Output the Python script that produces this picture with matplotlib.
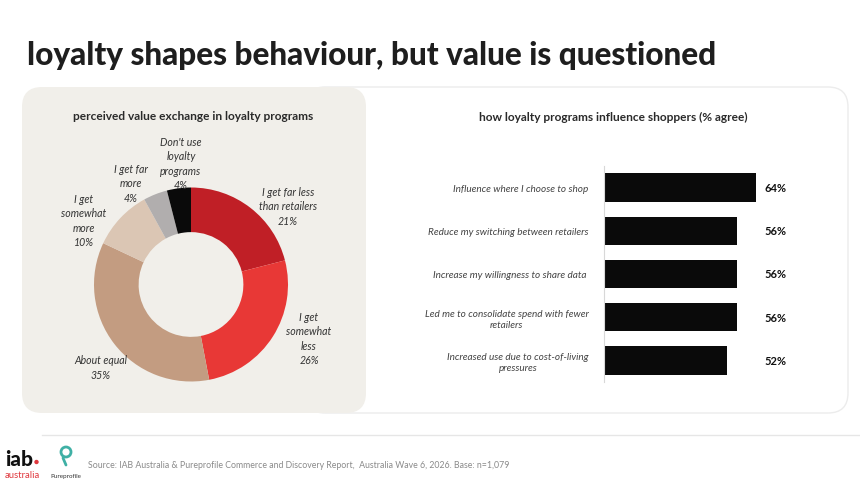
import matplotlib
matplotlib.use("Agg")
import matplotlib.pyplot as plt
from matplotlib.patches import FancyBboxPatch, Circle

plt.rcParams['font.family'] = ['Lato', 'DejaVu Sans']

W, H = 860, 485
fig = plt.figure(figsize=(W / 100, H / 100), dpi=100)
fig.patch.set_facecolor('white')

# ---------------- data ----------------
title = "loyalty shapes behaviour, but value is questioned"

donut_title = "perceived value exchange in loyalty programs"
donut_labels = ["I get far less\nthan retailers", "I get\nsomewhat\nless", "About equal",
                "I get\nsomewhat\nmore", "I get far\nmore", "Don't use\nloyalty\nprograms"]
donut_values = [21, 26, 35, 10, 4, 4]
donut_colors = ["#c01f26", "#e83836", "#c39c81", "#dbc6b4", "#b1aeae", "#0a0a0a"]

bar_title = "how loyalty programs influence shoppers (% agree)"
bar_labels = ["Influence where I choose to shop",
              "Reduce my switching between retailers",
              "Increase my willingness to share data ",
              "Led me to consolidate spend with fewer\nretailers",
              "Increased use due to cost-of-living\npressures"]
bar_values = [64, 56, 56, 56, 52]

source = ("Source: IAB Australia & Pureprofile Commerce and Discovery Report,  "
          "Australia Wave 6, 2026. Base: n=1,079")

# ---------------- background panels ----------------
bg = fig.add_axes([0, 0, 1, 1])
bg.set_xlim(0, W)
bg.set_ylim(H, 0)
bg.axis('off')

bg.add_patch(FancyBboxPatch((305, 88), 543, 326, boxstyle="round,pad=0,rounding_size=20",
                            facecolor="white", edgecolor="#ececec", linewidth=1.0))
bg.add_patch(FancyBboxPatch((22, 88), 344, 326, boxstyle="round,pad=0,rounding_size=20",
                            facecolor="#f1efea", edgecolor="none"))

# title
bg.text(27, 56, title, fontsize=22.7, fontweight='black', color="#1e1e1e",
        va='center', ha='left')

# footer line
bg.plot([42, 860], [436, 436], color="#e6e6e6", linewidth=1)

# logos
bg.text(5, 466, "iab", fontsize=15, fontweight='black', color="#111111", va='baseline')
bg.add_patch(Circle((36.5, 463), 2.2, facecolor="#e0383e", edgecolor='none'))
bg.text(5, 478, "australia", fontsize=6.8, color="#e0383e", va='baseline')
bg.add_patch(Circle((66, 453), 5, facecolor='none', edgecolor="#3fb0a5", linewidth=2))
bg.plot([63, 66], [459, 466], color="#3fb0a5", linewidth=2, solid_capstyle='round')
bg.text(66, 478, "Pureprofile", fontsize=4.5, color="#333333", ha='center', va='baseline')

bg.text(88, 466, source, fontsize=6.3, color="#8a8a8a", va='center', ha='left')

# panel titles
bg.text(193, 117, donut_title, fontsize=8.6, fontweight='bold', color="#2a2a2a",
        ha='center', va='center')
bg.text(613, 117, bar_title, fontsize=8.6, fontweight='bold', color="#2a2a2a",
        ha='center', va='center')

# ---------------- donut ----------------
cx, cy, R = 191, 285.5, 97
lim = 1.6
side = 2 * lim * R
axd = fig.add_axes([(cx - side / 2) / W, 1 - (cy + side / 2) / H, side / W, side / H])
axd.pie(donut_values, colors=donut_colors, startangle=90, counterclock=False,
        radius=1.0, wedgeprops=dict(width=0.46, linewidth=0))
axd.set_xlim(-lim, lim)
axd.set_ylim(-lim, lim)
axd.set_aspect('equal')
axd.axis('off')

# ---------------- bars ----------------
x0, ppu = 604, 2.37
top, bot = 167, 383
xmax = 70
axb = fig.add_axes([x0 / W, 1 - bot / H, xmax * ppu / W, (bot - top) / H])
axb.patch.set_alpha(0)
ypos = list(range(len(bar_values)))
axb.barh(ypos, bar_values, height=0.66, color="#0a0a0a")
axb.set_xlim(0, xmax)
axb.set_ylim(len(bar_values) - 0.5, -0.5)
axb.set_yticks(ypos)
axb.set_yticklabels(bar_labels, fontsize=7.2, fontstyle='italic', color="#444444",
                    multialignment='center')
axb.tick_params(axis='y', length=0, pad=11)
axb.set_xticks([])
for s in ['top', 'right', 'bottom']:
    axb.spines[s].set_visible(False)
axb.spines['left'].set_color("#d8d8d8")
axb.spines['left'].set_linewidth(0.8)
for y, v in zip(ypos, bar_values):
    axb.text(72.5, y, f"{v}%", fontsize=8, fontweight='bold', color="#111111",
             ha='center', va='center', clip_on=False)

# ---------------- donut labels (overlay) ----------------
ov = fig.add_axes([0, 0, 1, 1])
ov.set_xlim(0, W)
ov.set_ylim(H, 0)
ov.axis('off')
ov.patch.set_alpha(0)
label_pos = [(288, 207), (309, 339), (101, 368), (84, 221), (131, 184), (181, 164)]
for lab, val, (px, py) in zip(donut_labels, donut_values, label_pos):
    ov.text(px, py, f"{lab}\n{val}%", fontsize=7.6, fontstyle='italic', color="#333333",
            ha='center', va='center', linespacing=1.35)

fig.savefig("out.png", dpi=100, facecolor='white')
